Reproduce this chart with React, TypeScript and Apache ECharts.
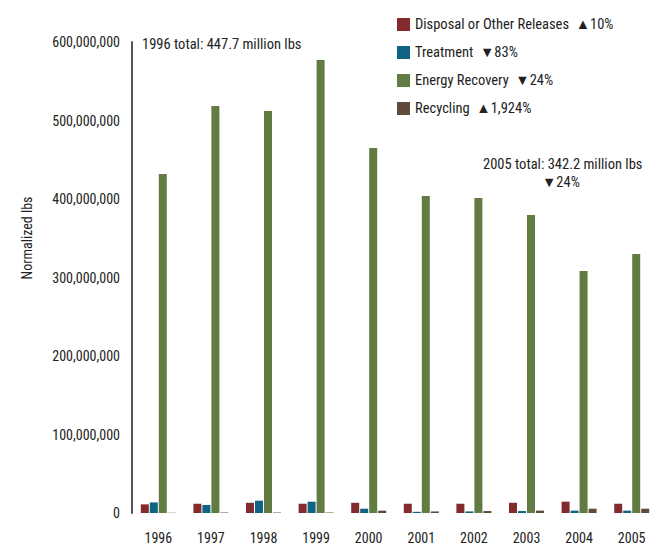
import React, { useEffect, useRef } from "react";
import * as echarts from "echarts";

const years = ["1996", "1997", "1998", "1999", "2000", "2001", "2002", "2003", "2004", "2005"];
const seriesNames = ["Disposal or Other Releases", "Treatment", "Energy Recovery", "Recycling"];
const seriesChanges = ["▲10%", "▼83%", "▼24%", "▲1,924%"];
const seriesColors = ["#832a2c", "#0e6482", "#617b43", "#5e4b3a"];

const disposal = [11.0e6, 11.8e6, 13.0e6, 11.8e6, 13.0e6, 11.8e6, 11.8e6, 13.0e6, 14.4e6, 11.8e6];
const treatment = [13.5e6, 10.2e6, 15.7e6, 14.4e6, 5.5e6, 1.5e6, 2.0e6, 2.5e6, 3.0e6, 3.0e6];
const energy = [431.8e6, 518.5e6, 512.1e6, 577.1e6, 465.0e6, 403.8e6, 401.3e6, 379.6e6, 308.3e6, 329.9e6];
const recycling = [0.3e6, 0.6e6, 0.6e6, 0.6e6, 3.0e6, 2.0e6, 2.5e6, 3.0e6, 5.5e6, 5.5e6];

const yTicks = { min: 0, max: 600000000, interval: 100000000 };
const yAxisName = "Normalized lbs";
const note1996 = "1996 total: 447.7 million lbs";
const note2005 = "2005 total: 342.2 million lbs";
const note2005Change = "▼24%";

const FONT = "'Liberation Sans Narrow', 'Arial Narrow', 'Roboto Condensed', sans-serif";
const TXT = "#222";

export default function App() {
  const ref = useRef<HTMLDivElement>(null);
  useEffect(() => {
    if (!ref.current) return;
    const chart = echarts.init(ref.current, null, { renderer: "svg" });
    const values = [disposal, treatment, energy, recycling];
    chart.setOption({
      animation: false,
      textStyle: { fontFamily: FONT },
      grid: { left: 132, right: 3, top: 42, bottom: 33, outerBoundsMode: "none", containLabel: false },
      legend: {
        orient: "vertical",
        left: 392,
        top: 12,
        itemWidth: 13,
        itemHeight: 13,
        itemGap: 13,
        icon: "rect",
        data: seriesNames,
        formatter: (name: string) => {
          const i = seriesNames.indexOf(name);
          return name + "  " + seriesChanges[i];
        },
        textStyle: { fontFamily: FONT, fontSize: 14.5, color: TXT },
      },
      xAxis: {
        type: "category",
        data: years,
        axisLine: { show: false },
        axisTick: { show: false },
        axisLabel: { fontFamily: FONT, fontSize: 14, color: TXT, margin: 18 },
      },
      yAxis: {
        type: "value",
        min: yTicks.min,
        max: yTicks.max,
        interval: yTicks.interval,
        axisLine: { show: true, lineStyle: { color: "#555", width: 2 } },
        axisTick: { show: false },
        splitLine: { show: false },
        axisLabel: {
          fontFamily: FONT,
          fontSize: 14,
          color: TXT,
          margin: 12,
          formatter: (v: number) => v.toLocaleString("en-US"),
        },
      },
      series: seriesNames.map((name, i) => ({
        name,
        type: "bar",
        data: values[i],
        barWidth: 8,
        barGap: "12.5%",
        itemStyle: { color: seriesColors[i] },
      })),
      graphic: [
        {
          type: "text",
          left: 142,
          top: 37,
          style: { text: note1996, font: `14.5px ${FONT}`, fill: TXT },
        },
        {
          type: "text",
          left: 483,
          top: 157,
          style: { text: note2005, font: `14.5px ${FONT}`, fill: TXT },
        },
        {
          type: "text",
          left: 542,
          top: 175,
          style: { text: note2005Change, font: `14.5px ${FONT}`, fill: TXT },
        },
        {
          type: "text",
          x: 27,
          y: 238,
          rotation: Math.PI / 2,
          style: {
            text: yAxisName,
            font: `14px ${FONT}`,
            fill: TXT,
            align: "center",
            verticalAlign: "middle",
          },
        },
      ],
    });
    return () => chart.dispose();
  }, []);
  return (
    <div
      ref={ref}
      style={{ position: "fixed", left: 0, top: 0, width: 661, height: 546, background: "#fff" }}
    />
  );
}
